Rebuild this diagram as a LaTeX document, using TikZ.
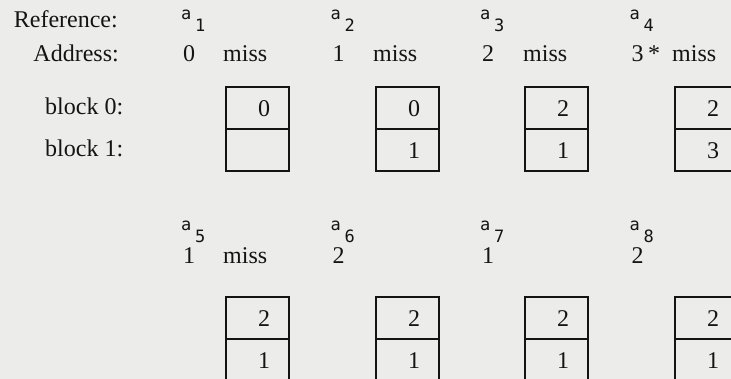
\documentclass[tikz,border=0pt]{standalone}
\usepackage{fontspec}
\setmainfont{Liberation Serif}
\newfontfamily\monofont{DejaVu Sans Mono}
\definecolor{paper}{RGB}{236,236,234}
\definecolor{ink}{RGB}{20,20,20}
\begin{document}
\begin{tikzpicture}[x=1pt,y=-1pt,
  txt/.style={inner sep=0pt, anchor=base west, font=\fontsize{24}{24}\selectfont, text=ink},
  txtr/.style={txt, anchor=base east},
  refa/.style={inner sep=0pt, anchor=base west, font=\monofont\fontsize{17}{17}\selectfont, text=ink},
  cell/.style={draw=ink, line width=2.4pt, minimum width=63pt, minimum height=42pt, inner sep=0pt, anchor=north west},
  dig/.style={inner sep=0pt, font=\fontsize{24}{24}\selectfont, text=ink}]
\fill[paper] (0,0) rectangle (731,379);
\useasboundingbox (0,0) rectangle (731,379);
% left labels
\node[txtr] (lref) at (118,28) {Reference:};
\node[txtr] (laddr) at (119,62) {Address:};
\node[txt] (lb0) at (45,115) {block 0:};
\node[txt] (lb1) at (45,157) {block 1:};
% boxes
\foreach \n/\x/\y/\t/\b in {1/225/86/0/{},2/375/86/0/1,3/524/86/2/1,4/674/86/2/3,5/225/296/2/1,6/375/296/2/1,7/524/296/2/1,8/674/296/2/1}{
  \node[cell] (b\n-t) at (\x,\y) {};
  \node[cell] (b\n-b) at (\x,\y+42) {};
  \node[dig] (d\n-t) at ([xshift=6.5pt]b\n-t.center) {\t};
  \node[dig] (d\n-b) at ([xshift=6.5pt]b\n-b.center) {\b};
}
% top row references and addresses
\foreach \k/\s in {0/1,1/2,2/3,3/4}{
  \node[refa] (ra\s) at ({181+149.5*\k},20) {a};
  \node[refa] (rs\s) at ({195+149.5*\k},32) {\s};
  \node[txt] (ad\s) at ({183+149.5*\k},62) {\the\numexpr\k\relax};
}
\foreach \k in {0,1,2}{
  \node[txt] (m\k) at ({223+150*\k},62) {miss};
}
\node[txt] (star) at (648,62) {*};
\node[txt] (m3) at (672,62) {miss};
% bottom row
\foreach \k/\s/\v in {0/5/1,1/6/2,2/7/1,3/8/2}{
  \node[refa] (ra\s) at ({181+149.5*\k},231) {a};
  \node[refa] (rs\s) at ({195+149.5*\k},243) {\s};
  \node[txt] (ad\s) at ({183+149.5*\k},264) {\v};
}
\node[txt] (m4) at (223,264) {miss};
\end{tikzpicture}
\end{document}
